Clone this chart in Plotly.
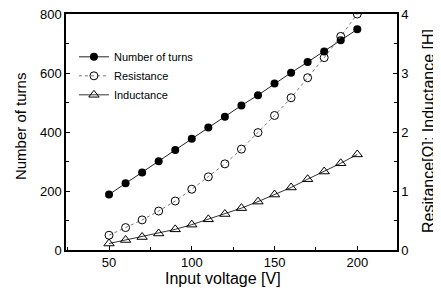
import plotly.graph_objects as go

voltage = [50, 60, 70, 80, 90, 100, 110, 120, 130, 140, 150, 160, 170, 180, 190, 200]
turns = [188, 226, 263, 301, 339, 377, 415, 452, 490, 525, 564, 601, 637, 673, 711, 748]
resistance = [0.25, 0.38, 0.51, 0.66, 0.83, 1.03, 1.24, 1.46, 1.71, 1.99, 2.28, 2.58, 2.92, 3.26, 3.62, 4.0]
inductance = [0.11, 0.17, 0.22, 0.28, 0.35, 0.43, 0.52, 0.61, 0.71, 0.82, 0.94, 1.06, 1.20, 1.33, 1.47, 1.62]

x_title = "Input voltage [V]"
y_title = "Number of turns"
y2_title = "Resitance[Ω]; Inductance [H]"

FONT = "Liberation Sans, Arial, sans-serif"

fig = go.Figure()
fig.add_trace(go.Scatter(
    x=voltage, y=turns, name="Number of turns", mode="lines+markers",
    line=dict(color="#222222", width=1),
    marker=dict(symbol="circle", size=8, color="black"),
))
fig.add_trace(go.Scatter(
    x=voltage, y=resistance, name="Resistance", mode="lines+markers", yaxis="y2",
    line=dict(color="#777777", width=1, dash="dot"),
    marker=dict(symbol="circle-open", size=8, color="black", line=dict(width=1)),
))
fig.add_trace(go.Scatter(
    x=voltage, y=inductance, name="Inductance", mode="lines+markers", yaxis="y2",
    line=dict(color="#333333", width=1),
    marker=dict(symbol="triangle-up-open", size=9, color="black", line=dict(width=1)),
))

axis_common = dict(
    showgrid=False, zeroline=False, showline=True, linecolor="black", linewidth=1.5,
    ticks="inside", ticklen=4, tickcolor="black", tickwidth=1, automargin=False,
    ticklabeloverflow="allow",
    tickfont=dict(family=FONT, size=13, color="black"),
)

# the page body adds an 8px margin, so the figure is sized to fit inside it
fig.update_layout(
    width=433, height=286,
    margin=dict(l=58, r=44, t=6, b=44, autoexpand=False),
    paper_bgcolor="white", plot_bgcolor="white",
    font=dict(family=FONT, color="black"),
    xaxis=dict(
        range=[24, 224], tickvals=[50, 100, 150, 200], mirror=True,
        minor=dict(dtick=25, tick0=0, ticks="inside", ticklen=3, tickcolor="black"),
        **axis_common,
    ),
    yaxis=dict(
        range=[0, 800], tickvals=[0, 200, 400, 600, 800],
        minor=dict(dtick=100, tick0=0, ticks="inside", ticklen=3, tickcolor="black"),
        **axis_common,
    ),
    yaxis2=dict(
        range=[0, 4], tickvals=[0, 1, 2, 3, 4], overlaying="y", side="right",
        minor=dict(dtick=0.5, tick0=0, ticks="inside", ticklen=3, tickcolor="black"),
        **axis_common,
    ),
    showlegend=True,
    legend=dict(
        x=0.024, y=0.88, xanchor="left", yanchor="top",
        bgcolor="rgba(0,0,0,0)", font=dict(family=FONT, size=11, color="black"),
        tracegroupgap=0,
    ),
    annotations=[
        dict(text=x_title, xref="paper", yref="paper", x=0.474, y=-0.119,
             xanchor="center", yanchor="middle", showarrow=False,
             font=dict(family=FONT, size=16, color="black")),
        dict(text=y_title, xref="paper", yref="paper", x=-0.139, y=0.525,
             xanchor="center", yanchor="middle", showarrow=False, textangle=-90,
             font=dict(family=FONT, size=15, color="black")),
        dict(text=y2_title, xref="paper", yref="paper", x=1.0937, y=0.504,
             xanchor="center", yanchor="middle", showarrow=False, textangle=-90,
             font=dict(family=FONT, size=16, color="black")),
    ],
)

fig.write_html("out.html")
